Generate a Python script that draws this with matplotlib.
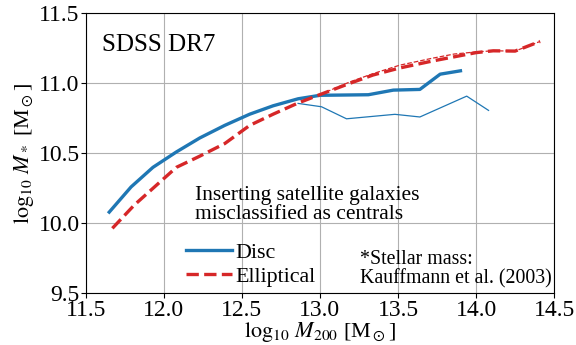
import numpy as np
import matplotlib
matplotlib.use('Agg')
import matplotlib.pyplot as plt

plt.rcParams['font.family'] = 'serif'
plt.rcParams['font.serif'] = ['Liberation Serif', 'DejaVu Serif']
plt.rcParams['mathtext.fontset'] = 'stix'

# disc, thick (all centrals)
disc_x = [11.65, 11.79, 11.93, 12.08, 12.23, 12.39, 12.55, 12.70, 12.86, 13.00, 13.16, 13.31, 13.47, 13.64, 13.77, 13.90]
disc_y = [10.08, 10.26, 10.40, 10.51, 10.61, 10.70, 10.78, 10.84, 10.89, 10.915, 10.917, 10.919, 10.952, 10.957, 11.066, 11.09]
# disc, thin (with misclassified satellites)
disc2_x = [12.86, 13.01, 13.17, 13.48, 13.64, 13.94, 14.08]
disc2_y = [10.857, 10.833, 10.747, 10.779, 10.76, 10.909, 10.807]
# elliptical, thick
ell_x = [11.67, 11.81, 11.95, 12.08, 12.23, 12.39, 12.55, 12.70, 12.86, 13.00, 13.19, 13.34, 13.51, 13.72, 13.86, 14.00, 14.11, 14.25, 14.41]
ell_y = [9.964, 10.13, 10.27, 10.40, 10.48, 10.57, 10.70, 10.78, 10.86, 10.92, 11.00, 11.06, 11.11, 11.16, 11.19, 11.22, 11.233, 11.231, 11.30]
# elliptical, thin
ell2_x = [13.00, 13.19, 13.34, 13.51, 13.72, 13.86, 14.00, 14.11, 14.25, 14.41]
ell2_y = [10.92, 11.01, 11.07, 11.13, 11.18, 11.21, 11.225, 11.233, 11.231, 11.30]

fig = plt.figure(figsize=(5.76, 3.45), dpi=100)
ax = fig.add_axes([0.149, 0.150, 0.813, 0.811])

blue = '#1f77b4'
red = '#d62728'

l1, = ax.plot(disc_x, disc_y, color=blue, lw=2.4, label='Disc')
ax.plot(disc2_x, disc2_y, color=blue, lw=0.9)
l2, = ax.plot(ell_x, ell_y, color=red, lw=2.4, ls='--', label='Elliptical')
ax.plot(ell2_x, ell2_y, color=red, lw=0.9, ls='--')

ax.set_xlim(11.5, 14.5)
ax.set_ylim(9.5, 11.5)
ax.set_xticks(np.arange(11.5, 14.51, 0.5))
ax.set_yticks(np.arange(9.5, 11.51, 0.5))
ax.tick_params(labelsize=17, pad=1)
ax.grid(True, color='#b0b0b0', lw=0.8)
ax.set_axisbelow(True)

ax.set_xlabel(r'$\log_{10}\,M_{200}$ [M$_\odot$]', fontsize=16, labelpad=0)
ax.set_ylabel(r'$\log_{10}\,M_*$ [M$_\odot$]', fontsize=16, labelpad=2)

ax.text(0.034, 0.866, 'SDSS DR7', transform=ax.transAxes, fontsize=18, va='baseline')
ax.text(0.233, 0.385, 'Inserting satellite galaxies\nmisclassified as centrals',
        transform=ax.transAxes, fontsize=15.5, va='top', linespacing=1.0)
ax.text(0.585, 0.155, '*Stellar mass:\nKauffmann et al. (2003)',
        transform=ax.transAxes, fontsize=14.3, va='top', linespacing=1.0)

ax.legend(handles=[l1, l2], loc='center', bbox_to_anchor=(0.352, 0.102),
          frameon=False, fontsize=15.8, handlelength=2.1, handletextpad=0.15,
          labelspacing=0.15)

fig.savefig('out.png', dpi=100)
